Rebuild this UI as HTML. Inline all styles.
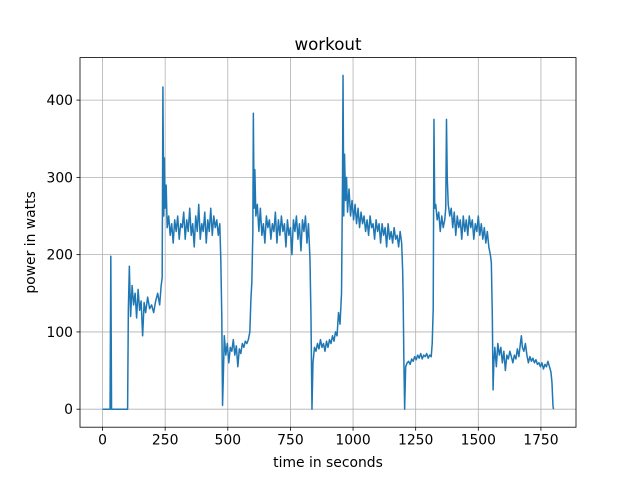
<!DOCTYPE html>
<html><head><meta charset="utf-8"><style>
html,body{margin:0;padding:0;background:#fff;}
svg{display:block;font-family:"DejaVu Sans","Liberation Sans",sans-serif;}
</style></head><body>
<svg id="chart" width="640" height="480">
<rect width="640" height="480" fill="#fff"/>
<text x="328" y="50" font-size="16.7" text-anchor="middle">workout</text>
<g id="grid"></g>
<g id="xticks"></g>
<g id="yticks"></g>
<polyline id="line" fill="none" stroke="#1f77b4" stroke-width="1.5" stroke-linejoin="round"/>
<rect x="80" y="57.6" width="496" height="369.6" fill="none" stroke="#000" stroke-width="0.8"/>
<text x="328" y="467" font-size="13.9" text-anchor="middle">time in seconds</text>
<text transform="translate(35,242.4) rotate(-90)" font-size="13.9" text-anchor="middle">power in watts</text>
</svg>
<script>
const xTickValues=[0,250,500,750,1000,1250,1500,1750];
const yTickValues=[0,100,200,300,400];
const times=[0,30,33,36,100,103,107,112,118,124,130,136,142,148,154,160,166,172,180,188,196,204,212,220,228,234,238,241,244,247,250,254,258,264,270,276,282,288,294,300,306,312,318,324,330,336,342,348,354,360,366,372,378,384,390,396,402,408,414,420,426,432,438,444,450,456,462,468,472,476,479,482,486,492,498,504,510,516,522,528,534,540,546,552,558,564,570,576,582,588,592,596,600,602,605,608,612,618,624,630,636,642,648,654,660,666,672,678,684,690,696,702,708,714,720,726,732,738,744,750,756,762,768,774,780,786,792,798,804,810,816,822,828,832,836,840,846,852,858,864,870,876,882,888,894,900,906,912,918,924,930,936,942,948,954,958,960,963,966,970,974,978,984,990,996,1002,1008,1014,1020,1026,1032,1038,1044,1050,1056,1062,1068,1074,1080,1086,1092,1098,1104,1110,1116,1122,1128,1134,1140,1146,1152,1158,1164,1170,1176,1182,1188,1194,1198,1200,1203,1206,1210,1216,1222,1228,1234,1240,1246,1252,1258,1264,1270,1276,1282,1288,1294,1300,1306,1312,1316,1320,1323,1326,1330,1336,1342,1348,1354,1360,1366,1370,1373,1376,1380,1386,1392,1398,1404,1410,1416,1422,1428,1434,1440,1446,1452,1458,1464,1470,1476,1482,1488,1494,1500,1506,1512,1518,1524,1530,1536,1542,1548,1552,1556,1559,1562,1566,1572,1578,1584,1590,1596,1602,1608,1614,1620,1626,1632,1638,1644,1650,1656,1662,1668,1672,1676,1682,1688,1694,1700,1706,1712,1718,1724,1730,1736,1742,1748,1754,1760,1766,1772,1778,1784,1790,1794,1798,1800];
const watts=[0,0,198,0,0,130,185,120,160,135,150,118,155,128,140,95,138,125,145,130,135,125,140,150,135,160,170,417,250,325,260,290,235,250,225,240,215,245,230,250,220,240,235,255,220,245,230,260,225,240,210,250,230,265,220,240,230,255,215,245,230,260,225,250,235,245,225,240,195,120,5,40,95,70,85,60,80,75,90,70,82,55,78,72,85,80,88,85,90,100,140,165,230,383,260,310,250,265,230,260,225,240,215,250,235,245,220,240,230,255,215,245,225,250,230,240,210,245,225,235,200,245,230,250,220,240,205,245,230,250,215,240,195,120,0,60,80,75,85,78,90,80,85,75,88,80,90,85,95,88,100,95,125,110,150,300,432,250,330,270,300,255,285,250,270,245,265,240,260,235,255,240,250,230,245,225,250,235,240,220,245,230,240,215,240,225,235,210,240,220,230,215,235,220,225,210,230,215,180,145,60,0,55,60,62,58,65,62,68,64,70,66,72,65,70,68,72,66,70,68,85,130,375,260,265,245,255,230,250,235,245,260,375,300,265,250,260,235,255,225,250,235,245,220,250,230,245,225,250,235,245,220,240,230,250,225,240,220,235,215,230,210,200,190,120,25,60,80,55,85,70,80,60,75,50,70,65,75,68,60,70,65,78,68,85,95,80,75,85,70,60,68,62,66,60,64,58,60,55,60,52,58,55,62,55,48,35,5,0];
const X0=80,X1=576,Y0=427.2,Y1=57.6,XMIN=-90,XMAX=1890,YMIN=-23.3,YMAX=455;
const xs=v=>X0+(v-XMIN)/(XMAX-XMIN)*(X1-X0);
const ys=v=>Y0-(v-YMIN)/(YMAX-YMIN)*(Y0-Y1);
const NS="http://www.w3.org/2000/svg";
const grid=document.getElementById('grid'),gx=document.getElementById('xticks'),gy=document.getElementById('yticks');
function mk(tag,attrs,parent){const e=document.createElementNS(NS,tag);for(const k in attrs)e.setAttribute(k,attrs[k]);parent.appendChild(e);return e;}
xTickValues.forEach(v=>{const x=xs(v);
 const g=mk('line',{x1:x,x2:x,y1:Y1,y2:Y0,stroke:'#b0b0b0','stroke-width':0.8},grid);
 
 
 const t=mk('line',{x1:x,x2:x,y1:Y0,y2:Y0+3.5,stroke:'#000','stroke-width':0.8},gx);
 
 
 const l=mk('text',{x:x,y:Y0+17.5,'font-size':13.9,'text-anchor':'middle'},gx);l.textContent=v;
 
 
});
yTickValues.forEach(v=>{const y=ys(v);
 const g=mk('line',{x1:X0,x2:X1,y1:y,y2:y,stroke:'#b0b0b0','stroke-width':0.8},grid);
 
 
 const t=mk('line',{x1:X0-3.5,x2:X0,y1:y,y2:y,stroke:'#000','stroke-width':0.8},gy);
 
 
 const l=mk('text',{x:X0-7,y:y+5,'font-size':13.9,'text-anchor':'end'},gy);l.textContent=v;
 
 
});
document.getElementById('line').setAttribute('points',times.map((t,i)=>xs(t).toFixed(2)+','+ys(watts[i]).toFixed(2)).join(' '));
</script>
</body></html>
